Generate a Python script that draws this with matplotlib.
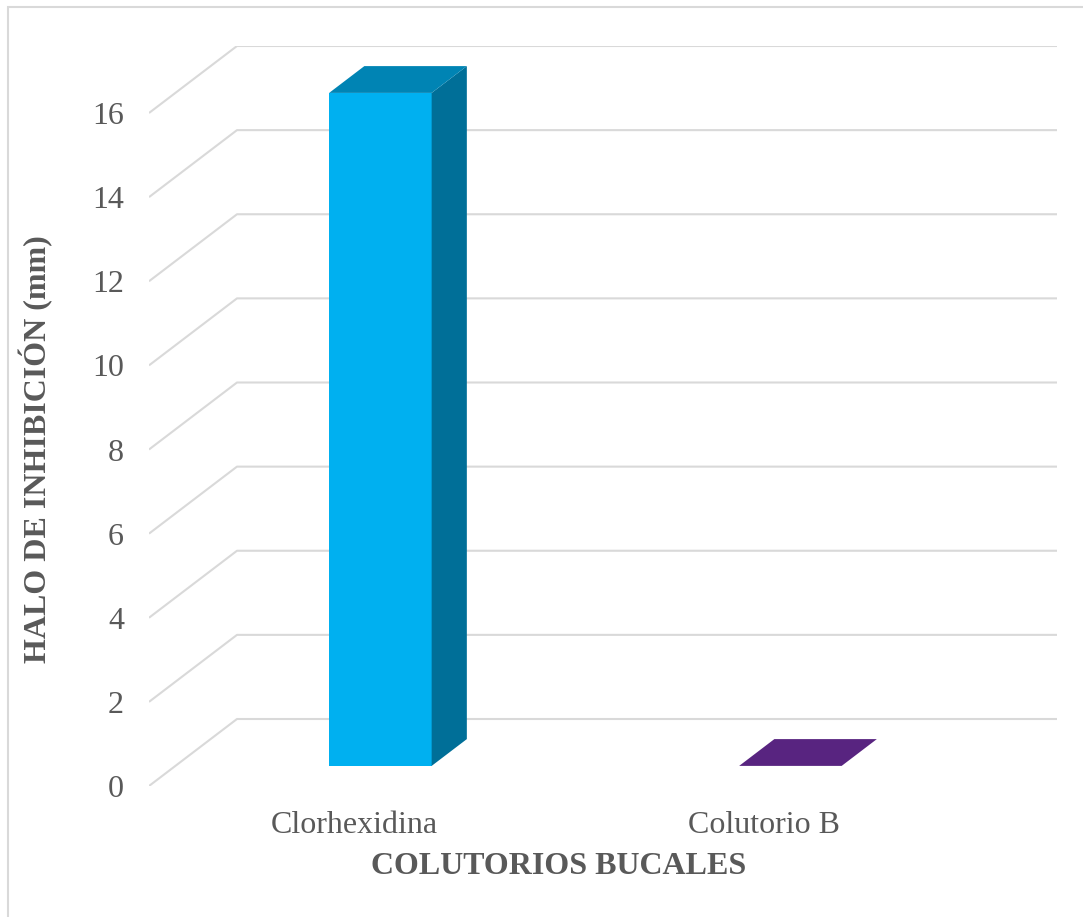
import matplotlib
matplotlib.use("Agg")
import matplotlib.pyplot as plt
from matplotlib.patches import Polygon, Rectangle

# data
categories = ["Clorhexidina", "Colutorio B"]
halo_mm = [16, 0]
front_colors = ["#00B0F0", "#582480"]
side_colors = ["#006F98", "#3E1A5C"]
top_colors = ["#0084B4", "#582480"]
y_ticks = [0, 2, 4, 6, 8, 10, 12, 14, 16]

W, H = 1083, 917
DX, DY = 0.2146, 1.593        # depth offset of the back wall, data units
BAR_W = 0.25                   # bar width in category units
D0, D1 = 0.30, 0.70            # bar front/back as fraction of depth
TXT = "#595959"
GRID = "#D9D9D9"

plt.rcParams["font.family"] = ["Liberation Serif", "DejaVu Serif"]

fig = plt.figure(figsize=(W / 100, H / 100), dpi=100)
ax = fig.add_axes([149 / W, (H - 786) / H, (1057 - 149) / W, (786 - 46) / H])
ax.set_xlim(0, len(categories) + DX)
ax.set_ylim(0, y_ticks[-1] + DY)
for s in ax.spines.values():
    s.set_visible(False)

# gridlines: slanted on the side wall, flat on the back wall
for v in y_ticks:
    ax.plot([0, DX, len(categories) + DX], [v, v + DY, v + DY],
            color=GRID, lw=1.5, zorder=1, solid_capstyle="butt")

ax.set_yticks(y_ticks)
ax.set_yticklabels([str(v) for v in y_ticks], fontsize=23, color=TXT)
ax.set_xticks([i + 0.5 for i in range(len(categories))])
ax.set_xticklabels(categories, fontsize=23, color=TXT)
ax.tick_params(axis="y", length=0, pad=18)
ax.tick_params(axis="x", length=0, pad=18)


def off(x, y, f):
    return (x + f * DX, y + f * DY)


for i, (val, fc, sc, tc) in enumerate(zip(halo_mm, front_colors, side_colors, top_colors)):
    x0 = i + 0.5 - BAR_W / 2
    x1 = i + 0.5 + BAR_W / 2
    if val > 0:
        front = [off(x0, 0, D0), off(x1, 0, D0), off(x1, val, D0), off(x0, val, D0)]
        side = [off(x1, 0, D0), off(x1, 0, D1), off(x1, val, D1), off(x1, val, D0)]
        ax.add_patch(Polygon(front, closed=True, fc=fc, ec="none", zorder=3))
        ax.add_patch(Polygon(side, closed=True, fc=sc, ec="none", zorder=3))
    top = [off(x0, val, D0), off(x1, val, D0), off(x1, val, D1), off(x0, val, D1)]
    ax.add_patch(Polygon(top, closed=True, fc=tc, ec="none", zorder=3))

ax.set_xlabel("COLUTORIOS BUCALES", fontsize=23, fontweight="bold", color=TXT)
ax.xaxis.set_label_coords(0.5 * len(categories) / (len(categories) + DX), (786 - 852) / (786 - 46))
ax.set_ylabel("HALO DE INHIBICIÓN (mm)", fontsize=23, fontweight="bold", color=TXT)
ax.yaxis.set_label_coords((53 - 149) / (1057 - 149), 0.5 * y_ticks[-1] / (y_ticks[-1] + DY))

# chart area border
fig.patches.append(Rectangle((7.5 / W, -0.05), 1.1, (H - 6.5) / H + 0.05,
                             transform=fig.transFigure, fill=False,
                             ec=GRID, lw=1.5))

fig.savefig("out.png", dpi=100, facecolor="white")
